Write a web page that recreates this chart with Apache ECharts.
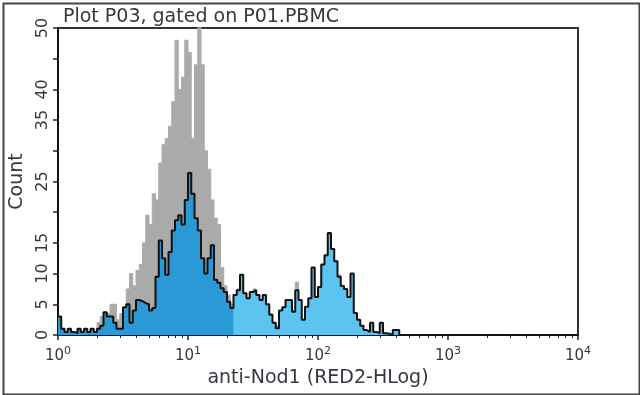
<!DOCTYPE html>
<html>
<head>
<meta charset="utf-8">
<script src="https://cdn.jsdelivr.net/npm/echarts@6/dist/echarts.min.js"></script>
<style>
  html, body { margin: 0; padding: 0; background: #fff; }
  #chart { width: 640px; height: 395px; }
</style>
</head>
<body>
<div id="chart"></div>
<script>
// histogram channels, 40 per decade, starting at 10^0
const binsPerDecade = 40;

// isotype control (grey)
const isotype = [
  1, 0.5, 0.5, 0.5, 0.5, 0.3, 0.5, 0.5, 0.5, 0.5,
  0.8, 0.5, 2, 3, 2.5, 3.5, 5, 5, 2.5, 3.5,
  4.5, 7.5, 10, 8, 10.5, 11.5, 15, 19.5, 18, 23,
  22, 28, 31, 32, 34, 38, 48, 40, 42, 48,
  46, 32, 44, 52, 44, 30, 27, 22, 19, 18,
  11, 8, 6.5, 5, 6, 7.5, 9, 6.5, 6, 7,
  7.5, 6, 5, 6, 5, 3.5, 2, 1.5, 3.5, 4,
  5.5, 5, 4, 8.6, 5.5, 2.5, 4.5, 5.5, 10.5, 6,
  7.5, 10, 12, 15, 13.5, 11, 9.8, 8, 7, 6,
  9.5, 3.5, 2, 1.5, 0.8, 0.5, 1.5, 0.5, 0.3, 1.5,
  0.3, 0.2, 0, 0.5, 0.5, 0
];

// anti-Nod1 stained sample (blue)
const nod1 = [
  3, 1, 0.5, 1, 0.5, 0.3, 1, 0.5, 1, 0.5,
  1, 0.5, 1, 1.5, 3.7, 3, 3, 2, 1, 1,
  4.5, 5, 2, 4, 5.7, 5.5, 5.2, 5, 4, 4.4,
  9.5, 15.4, 12.5, 9.8, 13.5, 17, 18.7, 19.5, 18, 22,
  26.4, 23, 19, 17, 12.5, 10, 12.5, 14.6, 9, 8.5,
  7.6, 7, 5.4, 4.4, 6.5, 7.3, 9.8, 6.8, 6, 7,
  7.3, 6.5, 5.7, 6.5, 5, 3.3, 2, 1.1, 4, 4.5,
  5.7, 5.7, 3.8, 7.3, 5.7, 2.5, 4.6, 6, 11, 6.2,
  7.8, 11.5, 13, 16.6, 14, 12, 9.5, 8, 7.5, 6.2,
  10, 3.6, 2.5, 1.5, 0.8, 0.5, 2, 0.5, 0.3, 2,
  0.3, 0.2, 0, 0.8, 0.8, 0
];

const decades = [0, 1, 2, 3, 4];
const yLabelValues = [0, 5, 10, 15, 25, 35, 40, 50];
const gateBin = 54; // region boundary (bin index), about 10^1.35

function toPoints(arr, from, to) {
  const pts = [];
  for (let i = from; i < to; i++) pts.push([i / binsPerDecade, arr[i]]);
  if (to >= arr.length) pts.push([arr.length / binsPerDecade, 0]);
  return pts;
}

const minorTicks = [];
for (let d = 0; d < 4; d++) {
  for (let k = 2; k <= 9; k++) minorTicks.push(d + Math.log10(k));
}

const font = 'DejaVu Sans';
const textColor = '#3a3540';

const chart = echarts.init(document.getElementById('chart'), null, { renderer: 'canvas' });
chart.setOption({
  animation: false,
  title: {
    text: 'Plot P03, gated on P01.PBMC',
    left: 58,
    top: 3,
    textStyle: { fontFamily: font, fontSize: 19, fontWeight: 'normal', color: textColor }
  },
  graphic: [{
    type: 'rect',
    left: 1, top: 1,
    shape: { width: 636, height: 391 },
    style: { fill: 'none', stroke: '#444', lineWidth: 2 },
    silent: true
  }],
  grid: {
    left: 58, top: 28, right: 62, bottom: 60,
    show: true, borderColor: '#333', borderWidth: 2, backgroundColor: '#fff'
  },
  xAxis: [{
    type: 'value',
    min: 0, max: 4, interval: 1,
    name: 'anti-Nod1 (RED2-HLog)',
    nameLocation: 'middle',
    nameGap: 34,
    nameTextStyle: { fontFamily: font, fontSize: 19, color: textColor },
    axisLine: { lineStyle: { color: '#111', width: 2 } },
    axisTick: { show: true, length: 5, lineStyle: { color: '#222', width: 1.5 } },
    splitLine: { show: false },
    axisLabel: {
      margin: 11,
      formatter: v => decades.includes(v) ? '{b|10}{s|' + v + '}' : '',
      rich: {
        b: { fontFamily: font, fontSize: 15, color: textColor },
        s: { fontFamily: font, fontSize: 11, color: textColor, padding: [0, 0, 9, 0] }
      }
    }
  }, {
    type: 'value',
    min: 0, max: 4,
    position: 'bottom',
    axisLine: { show: false },
    splitLine: { show: false },
    axisLabel: { show: false },
    axisTick: { show: true, length: 3, customValues: minorTicks, lineStyle: { color: '#222', width: 1 } }
  }],
  yAxis: {
    type: 'value',
    min: 0, max: 50, interval: 5,
    name: 'Count',
    nameLocation: 'middle',
    nameGap: 31,
    nameRotate: 90,
    nameTextStyle: { fontFamily: font, fontSize: 19, color: textColor },
    axisLine: { show: true, lineStyle: { color: '#111', width: 2 } },
    axisTick: { show: true, length: 5, lineStyle: { color: '#222', width: 1.5 } },
    splitLine: { show: false },
    axisLabel: {
      rotate: 90,
      margin: 7,
      fontFamily: font, fontSize: 16, color: textColor,
      hideOverlap: false,
      formatter: v => yLabelValues.includes(v) ? String(v) : ''
    }
  },
  series: [{
    name: 'isotype',
    type: 'line',
    step: 'end',
    showSymbol: false,
    data: toPoints(isotype, 0, isotype.length),
    lineStyle: { color: '#aaaaaa', width: 1 },
    areaStyle: { color: '#aaaaaa', opacity: 1 },
    itemStyle: { color: '#aaaaaa' },
    z: 1
  }, {
    name: 'anti-Nod1 low',
    type: 'line',
    step: 'end',
    showSymbol: false,
    data: toPoints(nod1, 0, gateBin + 1),
    lineStyle: { width: 0 },
    areaStyle: { color: '#2a9ad6', opacity: 1 },
    z: 2
  }, {
    name: 'anti-Nod1 high',
    type: 'line',
    step: 'end',
    showSymbol: false,
    data: toPoints(nod1, gateBin, nod1.length),
    lineStyle: { width: 0 },
    areaStyle: { color: '#5cc4f1', opacity: 1 },
    z: 2
  }, {
    name: 'anti-Nod1',
    type: 'line',
    step: 'end',
    showSymbol: false,
    data: toPoints(nod1, 0, nod1.length),
    lineStyle: { color: '#111', width: 2 },
    z: 3
  }]
});
</script>
</body>
</html>
